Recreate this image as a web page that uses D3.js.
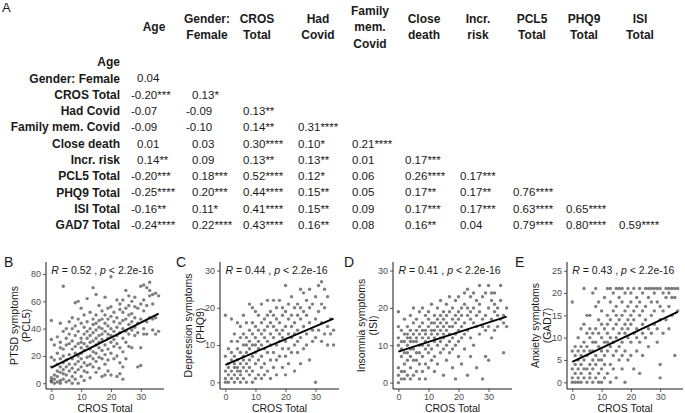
<!DOCTYPE html>
<html><head><meta charset="utf-8">
<script src="https://cdn.jsdelivr.net/npm/d3@7"></script>
<style>
html,body{margin:0;padding:0;background:#fff;}
svg{display:block;font-family:"Liberation Sans",Arial,sans-serif;}
</style></head>
<body>
<svg id="chart" width="685" height="413"></svg>
<script>
// ---------- Panel A: correlation table ----------
const rowLabels = ["Age","Gender: Female","CROS Total","Had Covid","Family mem. Covid","Close death","Incr. risk","PCL5 Total","PHQ9 Total","ISI Total","GAD7 Total"];
const colHeaders = [["Age"],["Gender:","Female"],["CROS","Total"],["Had","Covid"],["Family","mem.","Covid"],["Close","death"],["Incr.","risk"],["PCL5","Total"],["PHQ9","Total"],["ISI","Total"]];
const corrValues = [
  [],
  [0.04],
  [-0.20,0.13],
  [-0.07,-0.09,0.13],
  [-0.09,-0.10,0.14,0.31],
  [0.01,0.03,0.30,0.10,0.21],
  [0.14,0.09,0.13,0.13,0.01,0.17],
  [-0.20,0.18,0.52,0.12,0.06,0.26,0.17],
  [-0.25,0.20,0.44,0.15,0.05,0.17,0.17,0.76],
  [-0.16,0.11,0.41,0.15,0.09,0.17,0.17,0.63,0.65],
  [-0.24,0.22,0.43,0.16,0.08,0.16,0.04,0.79,0.80,0.59]
];
const sigStars = [
  [],
  [""],
  ["***","*"],
  ["","","**"],
  ["","","**","****"],
  ["","","****","*","****"],
  ["**","","**","**","","***"],
  ["***","***","****","*","","****","***"],
  ["****","***","****","**","","**","**","****"],
  ["**","*","****","**","","***","***","****","****"],
  ["****","****","****","**","","**","","****","****","****"]
];

// ---------- Panels B-E: scatter data (index = CROS Total score) ----------
const crosTicks = [0,10,20,30];
const pcl5ByCros = [
  [46,32,19,4,2,1,12],[3,28,6,0,17],[34,1,9,22,14,5],[2,8,26,18,12,44,0,30],
  [71,7,20,3,15,38,10,25],[6,28,1,17,33,12,40],[21,2,9,29,45,14,36],[0,25,18,48,11,31,5,40],
  [59,22,3,35,14,27,8,42],[60,16,29,0,38,20,47,10],[26,5,33,18,44,12,55,22,30],[36,2,24,15,41,29,50,9],
  [27,19,45,8,33,62,13,38],[30,20,52,4,40,25,14,35],[70,23,43,31,12,37,18,47],[65,28,39,8,50,22,33,44,16],
  [57,35,26,46,19,30,41,11],[53,40,24,5,32,47,18,36],[63,28,44,6,38,21,50,14],[42,33,55,25,9,47,36,17],
  [78,49,30,40,56,22,35,6],[45,27,52,38,18,32],[61,5,41,29,48,20,35],[54,7,37,44,15,26,58],
  [46,33,61,23,52,3,40,12],[68,30,47,38,55,18],[43,57,27,50,36,64],[51,26,45,39,60],
  [63,35,48,56,41],[44,12,55,37],[26,71,13,58,47],[72,40,61,53,36],
  [70,45,36,57],[74,48,68,64],[65,39,58,47],[66,48,36],[64,38]
];
const phq9ByCros = [
  [18,7,0,3,1],[2,5,0,9,4],[17,6,1,3,8,11],[4,2,13,0,7,5],
  [16,3,9,1,6,11,4],[15,2,8,5,12,0,3],[18,7,4,10,1,13,6],[12,3,16,8,0,5,10],
  [21,9,2,14,6,11,4],[20,13,0,7,16,3,10],[19,8,12,1,5,15,10],[14,6,2,11,18,9],
  [21,10,4,16,7,13,1],[12,17,5,9,14,2],[22,8,15,11,3,18],[19,13,6,10,16,1],
  [22,12,8,15,4,18],[20,14,10,6,17,2],[16,11,22,7,13],[18,9,14,4,20,12],
  [26,15,11,19,7,2],[13,21,17,9,5],[18,12,23,15,8],[20,10,16,3,13],
  [21,14,18,8,11],[25,17,12,5,20],[24,15,9,19],[22,13,18,10],
  [25,16,6,20],[21,14,11],[0,23,17,12],[26,19,14],
  [27,21,16,11],[25,20,13],[23,15,10],[13,17],[10,14]
];
const isiByCros = [
  [19,15,12,4,0,10,2],[14,7,1,11,3,9],[13,5,17,8,1,11,3],[10,15,6,12,2,8,13],
  [12,9,18,4,14,7,1,11],[16,11,6,13,2,9,20],[14,8,17,11,3,12,6],[13,10,19,5,15,8,1],
  [16,12,7,20,3,10,14],[11,18,14,5,9,13,1],[15,12,8,19,4,17,10],[13,16,9,6,14,21],
  [18,11,14,7,16,3,12],[15,20,10,13,17,5],[14,22,12,16,8,18,11],[17,13,19,9,15,2,12],
  [21,14,16,10,18,6],[13,19,15,8,23,11],[17,12,20,4,15,9],[16,22,13,1,18,10],
  [19,14,23,7,17,11],[20,15,12,18,5],[21,16,24,9,13],[18,25,14,2,20],
  [23,17,12,19,7],[20,16,24,10],[22,15,18,4],[26,19,13,21],
  [17,23,1,15],[24,18,7,14],[26,20,15,6],[22,17,24,12],
  [24,19,14,21],[18,15,20],[26,17,22],[8,16,18],[15,20]
];
const gad7ByCros = [
  [18,0,7,3,1],[6,0,2,8,4],[5,1,3,7,0,10],[2,6,12,4,0,8],
  [21,3,9,1,5,13,7],[11,0,6,3,8,15],[4,10,1,7,15,2,12],[20,5,9,0,11,3,7],
  [12,6,1,17,4,9,21],[8,14,0,5,11,2,18],[10,3,7,13,0,16,5],[9,12,1,6,19,4],
  [21,11,7,15,2,9,13],[8,14,4,18,10,0,21],[12,6,16,9,3,20],[21,13,7,10,17,1,15],
  [11,19,5,14,8,21],[21,9,15,12,3,18,6],[16,11,20,7,13,0],[14,21,10,17,5,12],
  [18,9,13,20,6,15],[21,11,16,3,14],[19,12,7,17,10],[21,15,9,18,2],
  [20,13,16,6,11],[21,17,10,14],[19,12,21,8],[21,15,18,11],
  [20,16,13,21],[18,12,21,9],[4,1,21,17,14],[20,16,11],
  [21,19,14],[21,17,12,20],[21,15,19],[21,6,19],[21,16]
];
const panelLetters = ["B","C","D","E"];
const yTitles = [["PTSD symptoms","(PCL5)"],["Depression symptoms","(PHQ9)"],["Insomnia symptoms","(ISI)"],["Anxiety symptoms","(GAD7)"]];
const yTickSets = [[0,20,40,60,80],[0,10,20,30],[0,10,20,30],[0,5,10,15,20,25]];
const rValues = ["0.52","0.44","0.41","0.43"];
const pLabel = "2.2e-16";
const fitAtMin = [11.5,4.7,8.3,4.6];   // regression line value at CROS = 0
const fitAtMax = [51,17.1,17.7,15.8];  // regression line value at CROS = 36
const crosRange = [0,36];

// ---------- layout ----------
const svg = d3.select("#chart");
const ink = "#1a1a1a";

svg.append("text").attr("x",2).attr("y",12).attr("font-size",13).attr("fill",ink).text("A");

const rowLabelX = 120, rowY0 = 62, rowStep = 16.3;
const headerCX = [154,207,257,318,370,424,478,532,584,640];
const valueX = [137,192,243,298,352,405,460,513,566,619];
const headerMid = 27, headerLH = 16.5;

const tbl = svg.append("g");
colHeaders.forEach((lines,j)=>{
  lines.forEach((ln,i)=>{
    tbl.append("text").attr("x",headerCX[j])
      .attr("y",headerMid + (i-(lines.length-1)/2)*headerLH)
      .attr("dy","0.35em").attr("text-anchor","middle")
      .attr("font-size",12).attr("font-weight","bold").attr("fill",ink).text(ln);
  });
});
rowLabels.forEach((lab,i)=>{
  const y = rowY0 + i*rowStep;
  tbl.append("text").attr("x",rowLabelX).attr("y",y).attr("dy","0.35em")
    .attr("text-anchor","end").attr("font-size",12).attr("font-weight","bold").attr("fill",ink).text(lab);
  corrValues[i].forEach((v,j)=>{
    const s = d3.format(".2f")(Math.abs(v));
    tbl.append("text").attr("x",valueX[j] - (v<0?6:0)).attr("y",y).attr("dy","0.35em")
      .attr("font-size",11.5).attr("fill",ink).text((v<0?"-":"")+s+sigStars[i][j]);
  });
});

// ---------- scatter panels ----------
const panelLeft = [46,220,393,567];
const panelRight = [164,339,512,683];
const plotTop = 262, plotBottom = 389;
const yDomains = [[-4.2,88.8],[-1.8,32.3],[-1.7,32.3],[-1.5,26.95]];
const letterX = [4,176,344,515];
const datasets = [pcl5ByCros, phq9ByCros, isiByCros, gad7ByCros];

datasets.forEach((data,p)=>{
  const x = d3.scaleLinear().domain([-1.8,37.8]).range([panelLeft[p],panelRight[p]]);
  const y = d3.scaleLinear().domain(yDomains[p]).range([plotBottom,plotTop]);
  const g = svg.append("g");

  const pts = [];
  data.forEach((ys,cx)=>ys.forEach(v=>pts.push([cx,v])));

  g.append("g").selectAll("circle").data(pts).enter().append("circle")
    .attr("cx",d=>x(d[0])).attr("cy",d=>y(d[1])).attr("r",1.7)
    .attr("fill","#3a3a3a").attr("fill-opacity",0.65);

  g.append("line")
    .attr("x1",x(crosRange[0])).attr("y1",y(fitAtMin[p]))
    .attr("x2",x(crosRange[1])).attr("y2",y(fitAtMax[p]))
    .attr("stroke","#000").attr("stroke-width",1.9);

  const xa = g.append("g").attr("transform",`translate(0,${plotBottom})`)
    .call(d3.axisBottom(x).tickValues(crosTicks).tickSize(3).tickPadding(1.5));
  const ya = g.append("g").attr("transform",`translate(${panelLeft[p]},0)`)
    .call(d3.axisLeft(y).tickValues(yTickSets[p]).tickSize(3).tickPadding(2));
  [xa,ya].forEach(a=>{
    a.select(".domain").attr("stroke","#000").attr("stroke-width",0.9);
    a.selectAll(".tick line").attr("stroke","#333").attr("stroke-width",0.8);
    a.selectAll(".tick text").attr("fill","#4d4d4d").attr("font-size",9)
      .attr("font-family","Liberation Sans, Arial, sans-serif");
  });
  xa.select(".domain").attr("d",`M${panelLeft[p]},0H${panelRight[p]}`);
  ya.select(".domain").attr("d",`M0,${plotTop}V${plotBottom}`);

  g.append("text").attr("x",(panelLeft[p]+panelRight[p])/2).attr("y",412)
    .attr("text-anchor","middle").attr("font-size",10.5).attr("fill",ink).text("CROS Total");

  const cy = (plotTop+plotBottom)/2;
  yTitles[p].forEach((t,i)=>{
    const lx = panelLeft[p] - 32 + i*12;
    g.append("text").attr("transform",`translate(${lx},${cy}) rotate(-90)`)
      .attr("text-anchor","middle").attr("dy","0.35em").attr("font-size",10.5).attr("fill",ink).text(t);
  });

  g.append("text").attr("x",letterX[p]).attr("y",267).attr("font-size",14).attr("fill",ink).text(panelLetters[p]);

  const lab = g.append("text").attr("x",x(0)).attr("y",274).attr("font-size",10.5).attr("fill",ink);
  lab.append("tspan").attr("font-style","italic").text("R");
  lab.append("tspan").text(" = " + rValues[p] + " , ");
  lab.append("tspan").attr("font-style","italic").text("p");
  lab.append("tspan").text(" < " + pLabel);
});
</script>
</body></html>
